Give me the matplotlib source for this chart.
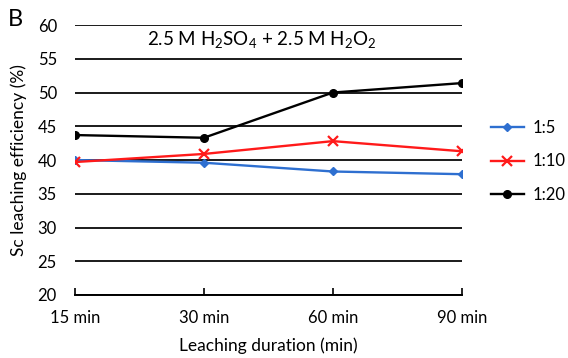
import matplotlib

matplotlib.use("Agg")
import matplotlib.pyplot as plt
import numpy as np

plt.rcParams["font.family"] = ["Lato", "DejaVu Sans"]
plt.rcParams["mathtext.default"] = "regular"

durations = ["15 min", "30 min", "60 min", "90 min"]
ratio_1_5 = [40.0, 39.6, 38.3, 37.9]
ratio_1_10 = [39.7, 40.9, 42.8, 41.3]
ratio_1_20 = [43.7, 43.3, 50.0, 51.4]
y_ticks = [20, 25, 30, 35, 40, 45, 50, 55, 60]

fig = plt.figure(figsize=(5.68, 3.58), dpi=100)
ax = fig.add_axes([0.132, 0.176, 0.681, 0.754])

x = np.arange(len(durations))
ax.plot(x, ratio_1_5, color="#2e6fd0", lw=1.7, marker="D", ms=4.5, label="1:5")
ax.plot(x, ratio_1_10, color="#ff1a1a", lw=1.7, marker="x", ms=7, mew=1.6, label="1:10")
ax.plot(x, ratio_1_20, color="black", lw=1.7, marker="o", ms=5.5, label="1:20")

ax.set_xlim(0, len(durations) - 1)
ax.set_ylim(20, 60)
ax.set_yticks(y_ticks)
ax.set_xticks(x)
ax.set_xticklabels(durations)
ax.yaxis.grid(True, color="#1a1a1a", lw=1.4)
ax.set_axisbelow(True)

for side in ["left", "right", "top"]:
    ax.spines[side].set_visible(False)
ax.spines["bottom"].set_linewidth(1.4)
ax.tick_params(axis="y", length=0, pad=13, labelsize=12)
ax.tick_params(axis="x", direction="in", length=5, width=1.2, pad=11, labelsize=12)

ax.set_ylabel("Sc leaching efficiency (%)", fontsize=12.5, labelpad=8)
ax.set_xlabel("Leaching duration (min)", fontsize=12.5, labelpad=8)

ax.text(0.482, 0.945, r"2.5 M H$_2$SO$_4$ + 2.5 M H$_2$O$_2$", transform=ax.transAxes,
        ha="center", va="center", fontsize=13.5)
fig.text(0.014, 0.945, "B", fontsize=17, ha="left", va="center")

ax.legend(loc="center left", bbox_to_anchor=(1.075, 0.495), frameon=False,
          borderpad=0, borderaxespad=0, fontsize=12, handlelength=2.0,
          handletextpad=0.5, labelspacing=1.05)

fig.savefig("out.png", dpi=100)
